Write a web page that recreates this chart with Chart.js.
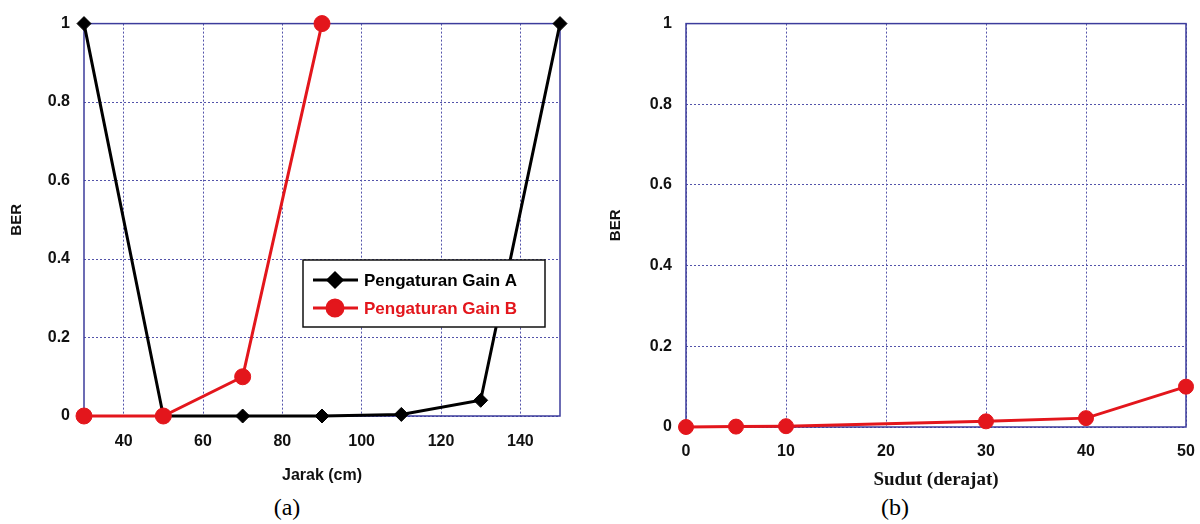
<!DOCTYPE html>
<html>
<head>
<meta charset="utf-8">
<script src="https://cdn.jsdelivr.net/npm/chart.js@4.4.0/dist/chart.umd.min.js"></script>
<style>
  body { margin: 0; background: #fff; width: 1200px; height: 524px; position: relative; overflow: hidden; }
  canvas { position: absolute; top: 0; }
  #chartA { left: 0; }
  #chartB { left: 600px; }
  .cap { position: absolute; top: 492px; width: 80px; text-align: center;
         font-family: "Liberation Serif", "Times New Roman", serif; font-size: 24px; color: #000; line-height: 30px; }
</style>
</head>
<body>
<canvas id="chartA" width="600" height="485"></canvas>
<canvas id="chartB" width="600" height="491"></canvas>
<div class="cap" style="left:247px">(a)</div>
<div class="cap" style="left:855px">(b)</div>
<script>
// grafik (a): BER vs jarak
const jarakA = [30, 50, 70, 90, 110, 130, 150];
const berGainA = [1, 0, 0, 0, 0.004, 0.04, 1];
const jarakB = [30, 50, 70, 90];
const berGainB = [0, 0, 0.1, 1];
const jarakTicks = [40, 60, 80, 100, 120, 140];

// grafik (b): BER vs sudut
const sudut = [0, 5, 10, 30, 40, 50];
const berSudut = [0, 0.001, 0.002, 0.014, 0.022, 0.1];

const legendLabels = ["Pengaturan Gain A", "Pengaturan Gain B"];

const axisColor = "#3c3c9c";
const gridColor = "#5353aa";
const merah = "#e3161c";
const tickFont = { family: "'Liberation Sans', Arial, sans-serif", size: 16, weight: "bold" };

const toXY = (xs, ys) => xs.map((x, i) => ({ x: x, y: ys[i] }));

// kotak di sekeliling area plot
const bingkai = {
  id: "bingkai",
  beforeDatasetsDraw(chart) {
    const { ctx, chartArea: a } = chart;
    ctx.save();
    ctx.strokeStyle = axisColor;
    ctx.lineWidth = 1.5;
    ctx.strokeRect(a.left, a.top, a.right - a.left, a.bottom - a.top);
    ctx.restore();
  },
};

// legenda di dalam grafik (a)
const legendaDalam = {
  id: "legendaDalam",
  afterDraw(chart) {
    const ctx = chart.ctx;
    const x0 = 303, y0 = 260, w = 242, h = 67;
    ctx.save();
    ctx.fillStyle = "#fff";
    ctx.fillRect(x0, y0, w, h);
    ctx.strokeStyle = "#111";
    ctx.lineWidth = 1.5;
    ctx.strokeRect(x0, y0, w, h);
    chart.data.datasets.forEach((ds, i) => {
      const y = y0 + 20 + i * 28;
      ctx.strokeStyle = ds.borderColor;
      ctx.lineWidth = ds.borderWidth;
      ctx.beginPath();
      ctx.moveTo(x0 + 10, y);
      ctx.lineTo(x0 + 55, y);
      ctx.stroke();
      ctx.fillStyle = ds.backgroundColor;
      Chart.helpers.drawPoint(ctx, {
        pointStyle: ds.pointStyle,
        radius: ds.pointRadius,
        rotation: 0,
        borderWidth: 1,
      }, x0 + 32, y);
      ctx.fillStyle = ds.borderColor;
      ctx.font = "bold 17px 'Liberation Sans', Arial, sans-serif";
      ctx.textBaseline = "middle";
      ctx.textAlign = "left";
      ctx.fillText(legendLabels[i], x0 + 61, y + 1);
    });
    ctx.restore();
  },
};

function skalaY(lebar, pad) {
  return {
    type: "linear",
    min: 0,
    max: 1,
    ticks: {
      stepSize: 0.2,
      color: "#111",
      font: tickFont,
      padding: 14,
      callback: (v) => String(Math.round(v * 10) / 10),
    },
    grid: { color: gridColor, lineWidth: 1, drawTicks: false },
    border: { display: false, dash: [2, 2] },
    title: {
      display: true,
      text: "BER",
      color: "#111",
      font: { family: "'Liberation Sans', Arial, sans-serif", size: 15, weight: "bold" },
      padding: { top: pad, bottom: 0 },
    },
    afterFit: (s) => { s.width = lebar; },
  };
}

new Chart(document.getElementById("chartA"), {
  type: "line",
  data: {
    datasets: [
      {
        label: legendLabels[0],
        data: toXY(jarakA, berGainA),
        borderColor: "#000",
        backgroundColor: "#000",
        borderWidth: 3,
        pointStyle: "rectRot",
        pointRadius: 7,
        pointBorderWidth: 1,
        order: 1,
        clip: false,
      },
      {
        label: legendLabels[1],
        data: toXY(jarakB, berGainB),
        borderColor: merah,
        backgroundColor: merah,
        borderWidth: 3,
        pointStyle: "circle",
        pointRadius: 8,
        pointBorderWidth: 1,
        order: 0,
        clip: false,
      },
    ],
  },
  options: {
    responsive: false,
    animation: false,
    layout: { padding: { left: 0, right: 40, top: 22, bottom: 0 } },
    plugins: { legend: { display: false }, tooltip: { enabled: false } },
    scales: {
      x: {
        type: "linear",
        min: 30,
        max: 150,
        afterBuildTicks: (s) => { s.ticks = jarakTicks.map((v) => ({ value: v })); },
        ticks: { color: "#111", font: tickFont, padding: 16 },
        grid: { color: gridColor, lineWidth: 1, drawTicks: false },
        border: { display: false, dash: [2, 2] },
        title: {
          display: true,
          text: "Jarak (cm)",
          color: "#111",
          font: { family: "'Liberation Sans', Arial, sans-serif", size: 16, weight: "bold" },
          padding: { top: 0, bottom: 0 },
        },
        afterFit: (s) => { s.height = 69; },
      },
      y: skalaY(84, 8),
    },
  },
  plugins: [bingkai, legendaDalam],
});

new Chart(document.getElementById("chartB"), {
  type: "line",
  data: {
    datasets: [
      {
        label: "BER",
        data: toXY(sudut, berSudut),
        borderColor: merah,
        backgroundColor: merah,
        borderWidth: 3,
        pointStyle: "circle",
        pointRadius: 7.5,
        pointBorderWidth: 1,
        clip: false,
      },
    ],
  },
  options: {
    responsive: false,
    animation: false,
    layout: { padding: { left: 0, right: 14, top: 17, bottom: 0 } },
    plugins: { legend: { display: false }, tooltip: { enabled: false } },
    scales: {
      x: {
        type: "linear",
        min: 0,
        max: 50,
        ticks: { stepSize: 10, color: "#111", font: tickFont, padding: 15 },
        grid: { color: gridColor, lineWidth: 1, drawTicks: false },
        border: { display: false, dash: [2, 2] },
        title: {
          display: true,
          text: "Sudut (derajat)",
          color: "#111",
          font: { family: "'Liberation Serif', 'Times New Roman', serif", size: 19, weight: "bold" },
          padding: { top: 0, bottom: 0 },
        },
        afterFit: (s) => { s.height = 64; s.paddingRight = 0; },
      },
      y: skalaY(86, 7),
    },
  },
  plugins: [bingkai],
});
</script>
</body>
</html>
